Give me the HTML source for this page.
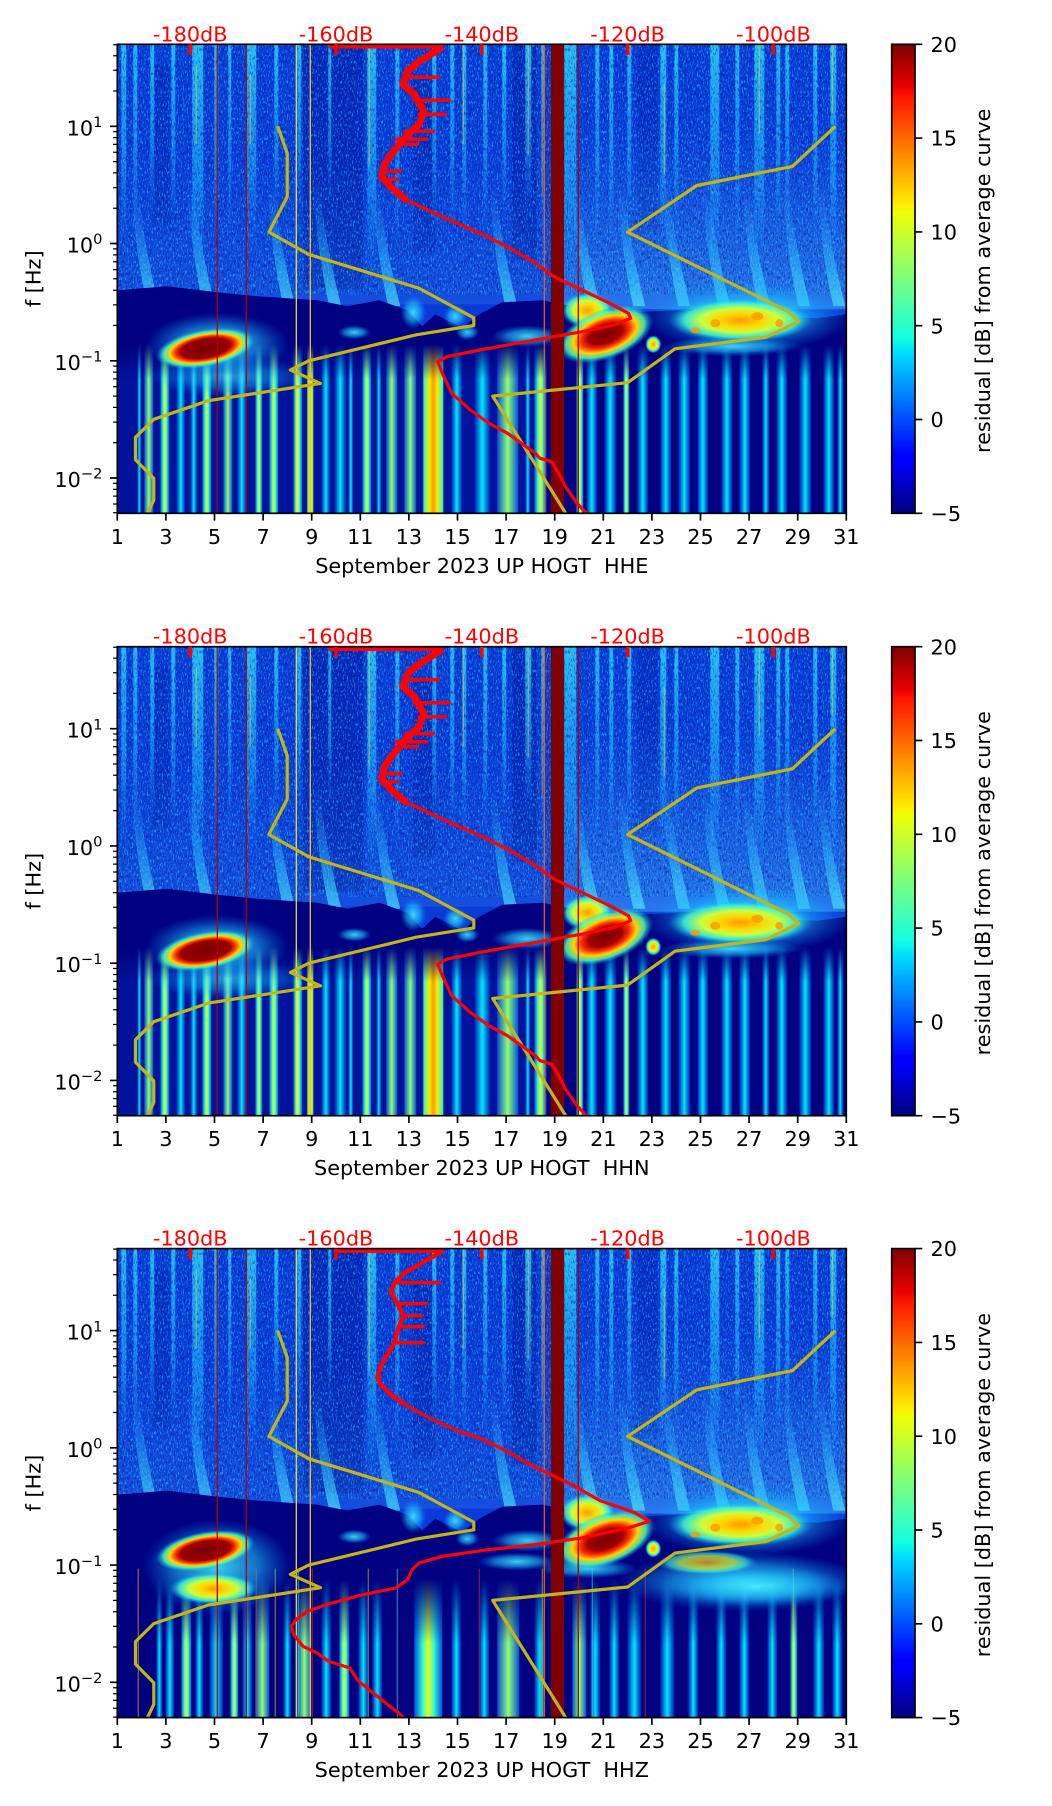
<!DOCTYPE html>
<html><head><meta charset="utf-8"><style>body{margin:0;background:#fff}svg{display:block}</style></head><body>
<svg xmlns="http://www.w3.org/2000/svg" width="1052" height="1806" viewBox="0 0 1052 1806" font-family="'DejaVu Sans','Liberation Sans',sans-serif" font-size="20.8">
<defs>
<linearGradient id="jet" x1="0" y1="1" x2="0" y2="0">
<stop offset="0" stop-color="#000080"/><stop offset=".11" stop-color="#0000ff"/><stop offset=".125" stop-color="#0000ff"/><stop offset=".34" stop-color="#00dbff"/><stop offset=".375" stop-color="#14ffe2"/><stop offset=".5" stop-color="#7bff7b"/><stop offset=".64" stop-color="#eeff08"/><stop offset=".66" stop-color="#ffec00"/><stop offset=".89" stop-color="#ff1300"/><stop offset=".91" stop-color="#e80000"/><stop offset="1" stop-color="#800000"/>
</linearGradient>
<linearGradient id="sg" x1="0" y1="0" x2="0" y2="1"><stop offset="0" stop-color="#30e0ff" stop-opacity=".8"/><stop offset=".6" stop-color="#20c0ff" stop-opacity=".5"/><stop offset="1" stop-color="#1090ff" stop-opacity="0"/></linearGradient>
<linearGradient id="lg" x1="0" y1="0" x2="0" y2="1"><stop offset="0" stop-color="#40a8ff" stop-opacity="0"/><stop offset="1" stop-color="#50c0ff" stop-opacity=".45"/></linearGradient>
<linearGradient id="cg" x1="0" y1="0" x2="0" y2="1"><stop offset="0" stop-color="#30b8ff" stop-opacity="0"/><stop offset=".5" stop-color="#30d0ff" stop-opacity=".35"/><stop offset="1" stop-color="#50f0ff" stop-opacity=".65"/></linearGradient>
<linearGradient id="gc" x1="0" y1="0" x2="1" y2="0"><stop offset="0" stop-color="#0018b0"/><stop offset=".5" stop-color="#00e8ff"/><stop offset="1" stop-color="#0018b0"/></linearGradient>
<linearGradient id="gy" x1="0" y1="0" x2="1" y2="0"><stop offset="0" stop-color="#0050e0"/><stop offset=".3" stop-color="#30ffd0"/><stop offset=".5" stop-color="#f0ff10"/><stop offset=".7" stop-color="#30ffd0"/><stop offset="1" stop-color="#0050e0"/></linearGradient>
<linearGradient id="gg" x1="0" y1="0" x2="1" y2="0"><stop offset="0" stop-color="#0050e0"/><stop offset=".5" stop-color="#90ff70"/><stop offset="1" stop-color="#0050e0"/></linearGradient>
<linearGradient id="go" x1="0" y1="0" x2="1" y2="0"><stop offset="0" stop-color="#30f0d0"/><stop offset=".3" stop-color="#f0f000"/><stop offset=".5" stop-color="#ff9800"/><stop offset=".7" stop-color="#f0f000"/><stop offset="1" stop-color="#30f0d0"/></linearGradient>
<radialGradient id="rb1"><stop offset="0" stop-color="#780000"/><stop offset=".5" stop-color="#9a0000"/><stop offset=".6" stop-color="#ff2a00"/><stop offset=".72" stop-color="#ffd400"/><stop offset=".84" stop-color="#50ffb0" stop-opacity=".85"/><stop offset="1" stop-color="#00b0ff" stop-opacity="0"/></radialGradient>
<radialGradient id="rb2"><stop offset="0" stop-color="#780000"/><stop offset=".35" stop-color="#a00000"/><stop offset=".5" stop-color="#ff2a00"/><stop offset=".66" stop-color="#ffd400"/><stop offset=".82" stop-color="#50ffb0" stop-opacity=".85"/><stop offset="1" stop-color="#00b0ff" stop-opacity="0"/></radialGradient>
<radialGradient id="yb"><stop offset="0" stop-color="#ff9a00"/><stop offset=".3" stop-color="#ffd800"/><stop offset=".55" stop-color="#c8ff40"/><stop offset=".78" stop-color="#40f8d0" stop-opacity=".85"/><stop offset="1" stop-color="#00a8ff" stop-opacity="0"/></radialGradient>
<radialGradient id="cyg"><stop offset="0" stop-color="#48f4ff" stop-opacity=".85"/><stop offset=".55" stop-color="#20c8ff" stop-opacity=".55"/><stop offset="1" stop-color="#0090ff" stop-opacity="0"/></radialGradient>
<filter id="nz" filterUnits="userSpaceOnUse" x="0" y="0" width="729" height="250" color-interpolation-filters="sRGB">
<feTurbulence type="fractalNoise" baseFrequency="0.8 0.3" numOctaves="2" seed="4"/>
<feColorMatrix type="matrix" values="0 0 0 0 0.15  0 0 0 0 0.85  0 0 0 0 1  5 0 0 0 -2.7"/>
</filter>
<filter id="nz2" filterUnits="userSpaceOnUse" x="0" y="0" width="729" height="250" color-interpolation-filters="sRGB">
<feTurbulence type="fractalNoise" baseFrequency="0.7 0.25" numOctaves="2" seed="9"/>
<feColorMatrix type="matrix" values="0 0 0 0 0  0 0 0 0 0.05  0 0 0 0 0.55  0 5 0 0 -2.7"/>
</filter>
<clipPath id="cp"><rect width="729" height="469"/></clipPath>
<linearGradient id="mf1" gradientUnits="userSpaceOnUse" x1="0" y1="300" x2="0" y2="335"><stop offset="0" stop-color="#000"/><stop offset="1" stop-color="#fff"/></linearGradient>
<mask id="m1" maskUnits="userSpaceOnUse" x="0" y="0" width="729" height="469"><rect width="729" height="469" fill="url(#mf1)"/></mask>
<linearGradient id="mf3" gradientUnits="userSpaceOnUse" x1="0" y1="330" x2="0" y2="395"><stop offset="0" stop-color="#000"/><stop offset="1" stop-color="#fff"/></linearGradient>
<mask id="m3" maskUnits="userSpaceOnUse" x="0" y="0" width="729" height="469"><rect width="729" height="469" fill="url(#mf3)"/></mask>

<g id="up">
<rect width="729" height="469" fill="#0a3ad8"/>
<g fill="#0016a0"><rect x="186" width="60" height="245" opacity=".5"/><rect x="395" width="24" height="215" opacity=".45"/><rect x="296" y="30" width="22" height="180" opacity=".35"/><rect x="520" width="20" height="190" opacity=".3"/><rect x="36" y="20" width="16" height="160" opacity=".3"/></g>
<rect y="110" width="440" height="150" fill="url(#lg)" opacity=".35"/>
<rect x="440" y="80" width="289" height="185" fill="url(#lg)"/>
<g fill="url(#sg)">
<rect x="4" width="5" height="200"/><rect x="16" width="4" height="190"/><rect x="33" width="4" height="170"/><rect x="54" width="4" height="180"/><rect x="75" width="11" height="235"/><rect x="97" width="4" height="200"/><rect x="111" width="3" height="190"/><rect x="129" width="10" height="210"/><rect x="157" width="4" height="180"/><rect x="180" width="4" height="170"/><rect x="211" width="3" height="160"/><rect x="250" width="9" height="235"/><rect x="278" width="4" height="205"/><rect x="315" width="4" height="190"/><rect x="333" width="4" height="185"/><rect x="345" width="4" height="200"/><rect x="366" width="4" height="190"/><rect x="385" width="4" height="180"/><rect x="408" width="6" height="170"/><rect x="424" width="3" height="200"/><rect x="447" width="12" height="250"/><rect x="478" width="4" height="200"/><rect x="492" width="4" height="205"/><rect x="510" width="4" height="190"/><rect x="543" width="6" height="205"/><rect x="557" width="4" height="200"/><rect x="593" width="9" height="225"/><rect x="618" width="4" height="200"/><rect x="637" width="10" height="225"/><rect x="659" width="4" height="200"/><rect x="668" width="4" height="190"/><rect x="696" width="4" height="205"/><rect x="713" width="6" height="225"/>
</g>
<rect width="729" height="250" filter="url(#nz)" opacity=".6"/>
<rect width="729" height="250" filter="url(#nz2)" opacity=".5"/>
<g fill="url(#cg)">
<path d="M14,140Q18,210 30,262L42,262Q26,200 20,140Z"/><path d="M70,140Q74,210 86,262L98,262Q82,200 76,140Z"/><path d="M150,140Q154,210 166,262L178,262Q162,200 156,140Z"/><path d="M196,140Q200,210 212,262L224,262Q208,200 202,140Z"/><path d="M255,140Q259,210 271,262L283,262Q267,200 261,140Z"/><path d="M372,140Q376,210 388,262L400,262Q384,200 378,140Z"/><path d="M455,140Q459,210 471,262L483,262Q467,200 461,140Z"/><path d="M500,140Q504,210 516,262L528,262Q512,200 506,140Z"/><path d="M545,140Q549,210 561,262L573,262Q557,200 551,140Z"/><path d="M585,140Q589,210 601,262L613,262Q597,200 591,140Z"/><path d="M625,140Q629,210 641,262L653,262Q637,200 631,140Z"/><path d="M665,140Q669,210 681,262L693,262Q677,200 671,140Z"/><path d="M700,140Q704,210 716,262L728,262Q712,200 706,140Z"/>
</g>
<g stroke-width="1.3" opacity=".45">
<path d="M252,0V120M346,0V100M715,0V70" stroke="#f0e020"/><path d="M411,0V110" stroke="#f0d020"/><path d="M425,0V150" stroke="#ff7000"/><path d="M79,20V100M133,30V100M642,0V90" stroke="#d0e040"/><path d="M547,40V130" stroke="#e0e030"/>
</g>
</g>

<polygon id="navy" fill="#000080" points="0,246 50,242 100,248 140,252 200,256 230,262 262,256 290,266 305,282 318,270 345,284 362,270 385,258 425,256 455,262 520,268 560,266 600,262 650,272 700,274 729,270 729,469 0,469"/>

<g id="mid1">
<use href="#navy"/>
<g mask="url(#m1)">
<rect x="0" y="300" width="430" height="169" fill="#0030c0" opacity=".4"/>
<rect x="20" y="300" width="4" height="169" fill="url(#gc)"/><rect x="27" y="300" width="9" height="169" fill="url(#gg)"/><rect x="43" y="300" width="9" height="169" fill="url(#gy)"/><rect x="59" y="300" width="9" height="169" fill="url(#gc)"/><rect x="73" y="300" width="7" height="169" fill="url(#gc)"/><rect x="85" y="300" width="9" height="169" fill="url(#gy)"/><rect x="106" y="300" width="9" height="169" fill="url(#gg)"/><rect x="120" y="300" width="9" height="169" fill="url(#gc)"/><rect x="138" y="300" width="7" height="169" fill="url(#gy)"/><rect x="152" y="300" width="9" height="169" fill="url(#gy)"/><rect x="176" y="300" width="9" height="169" fill="url(#gy)"/><rect x="190" y="300" width="6" height="169" fill="url(#go)"/><rect x="204" y="300" width="9" height="169" fill="url(#gc)"/><rect x="217" y="300" width="12" height="169" fill="url(#gc)"/><rect x="231" y="300" width="5" height="169" fill="url(#gc)"/><rect x="245" y="300" width="9" height="169" fill="url(#gy)"/><rect x="259" y="300" width="5" height="169" fill="url(#gc)"/><rect x="269" y="300" width="11" height="169" fill="url(#gg)"/><rect x="287" y="300" width="12" height="169" fill="url(#gg)"/><rect x="306" y="300" width="20" height="169" fill="url(#go)"/><rect x="334" y="300" width="11" height="169" fill="url(#gc)"/><rect x="357" y="300" width="16" height="169" fill="url(#gc)"/><rect x="380" y="300" width="21" height="169" fill="url(#gg)"/><rect x="408" y="300" width="5" height="169" fill="url(#gc)"/><rect x="417" y="300" width="12" height="169" fill="url(#gy)"/><rect x="459" y="300" width="7" height="169" fill="url(#gy)"/><rect x="469" y="300" width="11" height="169" fill="url(#gc)"/><rect x="487" y="300" width="12" height="169" fill="url(#gc)"/><rect x="506" y="300" width="6" height="169" fill="url(#gy)"/><rect x="520" y="300" width="11" height="169" fill="url(#gc)"/><rect x="543" y="300" width="11" height="169" fill="url(#gc)"/><rect x="561" y="300" width="12" height="169" fill="url(#gc)"/><rect x="580" y="300" width="11" height="169" fill="url(#gc)"/><rect x="604" y="300" width="11" height="169" fill="url(#gc)"/><rect x="622" y="300" width="11" height="169" fill="url(#gc)"/><rect x="645" y="300" width="7" height="169" fill="url(#gc)"/><rect x="659" y="300" width="11" height="169" fill="url(#gc)"/><rect x="682" y="300" width="12" height="169" fill="url(#gc)"/><rect x="706" y="300" width="11" height="169" fill="url(#gc)"/><rect x="720" y="300" width="6" height="169" fill="url(#gc)"/>
</g>
<ellipse cx="110" cy="332" rx="80" ry="20" fill="url(#cyg)" opacity=".7"/>
<ellipse cx="100" cy="300" rx="72" ry="32" fill="url(#cyg)"/>
<ellipse cx="88" cy="304" rx="50" ry="19" fill="url(#rb1)" transform="rotate(-10 88 304)"/>
<ellipse cx="410" cy="292" rx="36" ry="11" fill="url(#cyg)"/>
<ellipse cx="237" cy="288" rx="17" ry="7" fill="url(#cyg)"/>
<ellipse cx="350" cy="288" rx="12" ry="8" fill="url(#cyg)"/>
<ellipse cx="296" cy="268" rx="13" ry="17" fill="url(#cyg)"/>
<ellipse cx="338" cy="272" rx="12" ry="12" fill="url(#cyg)"/>
<ellipse cx="630" cy="272" rx="105" ry="36" fill="url(#cyg)"/>
<ellipse cx="615" cy="302" rx="70" ry="10" fill="url(#cyg)"/>
<ellipse cx="623" cy="276" rx="72" ry="22" fill="url(#yb)"/>
<ellipse cx="470" cy="266" rx="26" ry="18" fill="url(#yb)"/>
<ellipse cx="488" cy="290" rx="50" ry="25" fill="url(#rb2)" transform="rotate(-20 488 290)"/>
<ellipse cx="536" cy="300" rx="8" ry="9" fill="url(#yb)"/>
<g fill="#ff9a00" opacity=".8"><ellipse cx="598" cy="279" rx="5" ry="4"/><ellipse cx="640" cy="272" rx="6" ry="4"/><ellipse cx="662" cy="279" rx="4" ry="4"/><ellipse cx="578" cy="286" rx="5" ry="3"/></g>
</g>

<g id="mid3">
<use href="#navy"/>
<g mask="url(#m3)">
<rect x="39" y="290" width="6" height="179" fill="url(#gc)"/><rect x="48" y="290" width="9" height="179" fill="url(#gc)"/><rect x="64" y="290" width="10" height="179" fill="url(#gy)"/><rect x="78" y="290" width="8" height="179" fill="url(#gc)"/><rect x="92" y="290" width="14" height="179" fill="url(#gc)"/><rect x="113" y="290" width="8" height="179" fill="url(#gy)"/><rect x="125" y="290" width="10" height="179" fill="url(#gc)"/><rect x="138" y="290" width="14" height="179" fill="url(#gg)"/><rect x="166" y="290" width="8" height="179" fill="url(#gc)"/><rect x="180" y="290" width="14" height="179" fill="url(#gg)"/><rect x="204" y="290" width="10" height="179" fill="url(#gc)"/><rect x="222" y="290" width="10" height="179" fill="url(#gy)"/><rect x="241" y="290" width="10" height="179" fill="url(#gc)"/><rect x="255" y="290" width="10" height="179" fill="url(#gc)"/><rect x="297" y="290" width="28" height="179" fill="url(#gy)"/><rect x="334" y="290" width="10" height="179" fill="url(#gc)"/><rect x="362" y="290" width="10" height="179" fill="url(#gc)"/><rect x="380" y="290" width="22" height="179" fill="url(#gg)"/><rect x="417" y="290" width="11" height="179" fill="url(#gc)"/><rect x="455" y="290" width="14" height="179" fill="url(#gg)"/><rect x="473" y="290" width="10" height="179" fill="url(#gc)"/><rect x="492" y="290" width="10" height="179" fill="url(#gc)"/><rect x="510" y="290" width="14" height="179" fill="url(#gc)"/><rect x="543" y="290" width="14" height="179" fill="url(#gc)"/><rect x="571" y="290" width="10" height="179" fill="url(#gc)"/><rect x="599" y="290" width="10" height="179" fill="url(#gc)"/><rect x="622" y="290" width="10" height="179" fill="url(#gc)"/><rect x="650" y="290" width="10" height="179" fill="url(#gc)"/><rect x="673" y="290" width="7" height="179" fill="url(#gy)"/><rect x="696" y="290" width="11" height="179" fill="url(#gc)"/><rect x="715" y="290" width="10" height="179" fill="url(#gc)"/>
</g>
<g stroke-width="1.2" opacity=".5">
<path d="M21,320V469M158,320V469M251,320V469M425,320V469M676,320V469" stroke="#ffe000"/>
<path d="M139,320V469M195,320V469M362,320V469M528,320V469" stroke="#ff3000"/>
<path d="M181,320V469M280,320V469M475,320V469" stroke="#40ffe0"/>
</g>
<ellipse cx="100" cy="318" rx="75" ry="48" fill="url(#cyg)"/>
<ellipse cx="88" cy="302" rx="50" ry="19" fill="url(#rb1)" transform="rotate(-10 88 302)"/>
<ellipse cx="96" cy="340" rx="44" ry="16" fill="url(#yb)"/>
<ellipse cx="625" cy="333" rx="125" ry="30" fill="url(#cyg)"/>
<ellipse cx="640" cy="338" rx="95" ry="20" fill="url(#cyg)"/>
<ellipse cx="400" cy="313" rx="40" ry="9" fill="url(#cyg)"/>
<ellipse cx="470" cy="320" rx="50" ry="10" fill="url(#cyg)"/>
<ellipse cx="410" cy="292" rx="36" ry="11" fill="url(#cyg)"/>
<ellipse cx="237" cy="288" rx="17" ry="7" fill="url(#cyg)"/>
<ellipse cx="350" cy="290" rx="12" ry="8" fill="url(#cyg)"/>
<ellipse cx="296" cy="268" rx="13" ry="17" fill="url(#cyg)"/>
<ellipse cx="338" cy="272" rx="12" ry="12" fill="url(#cyg)"/>
<ellipse cx="630" cy="272" rx="105" ry="36" fill="url(#cyg)"/>
<ellipse cx="590" cy="314" rx="50" ry="12" fill="url(#yb)" opacity=".7"/>
<ellipse cx="623" cy="276" rx="72" ry="22" fill="url(#yb)"/>
<ellipse cx="470" cy="264" rx="28" ry="19" fill="url(#yb)"/>
<ellipse cx="488" cy="291" rx="52" ry="26" fill="url(#rb2)" transform="rotate(-20 488 291)"/>
<ellipse cx="536" cy="300" rx="8" ry="9" fill="url(#yb)"/>
<g fill="#ff9a00" opacity=".8"><ellipse cx="598" cy="279" rx="5" ry="4"/><ellipse cx="640" cy="272" rx="6" ry="4"/><ellipse cx="662" cy="279" rx="4" ry="4"/><ellipse cx="578" cy="286" rx="5" ry="3"/></g>
</g>

<g id="vl">
<path d="M100,0V469M129,0V469M461,0V469" stroke="#b00000" stroke-width="1.3"/>
<path d="M179,0V469" stroke="#e8e040" stroke-width="1.3"/>
<path d="M193,0V469" stroke="#ffc020" stroke-width="1.3"/>
<path d="M427,0V469" stroke="#ff6000" stroke-width="1.2"/>
<rect x="433.7" width="13" height="469" fill="#800000"/>
</g>

<g id="yl" fill="none" stroke="#c4b418" stroke-width="3.2" stroke-linejoin="round">
<polyline points="160.4,82 169.9,109 169.9,152.6 151.6,187.8 191.7,210.2 301.4,243.8 356.5,273.5 356.5,281.2 298.9,290.5 191.4,316.5 173.1,325.7 203.2,339.1 91.1,356.4 36.5,375 18.2,393 18.2,415.5 36.5,434.2 36.5,455.7 28.8,472"/>
<polyline points="718.1,82 675.1,122.1 579.6,141.2 510.3,187.8 670.7,267.2 681.6,276.9 648.8,292.9 557.7,304.5 510.3,338.4 375.4,351.8 450.3,472"/>
</g>

<g id="r1" fill="none" stroke="#ff0000" stroke-linejoin="round" stroke-linecap="round">
<polyline stroke-width="7" points="322.8,4 312,11 302,17 290.3,27 285.6,40 297.2,50 306.5,67 301.8,80 288,93 276.3,107 267,120 264.7,133 274,143 288,155"/>
<polyline stroke-width="3.2" points="288,155 325,172.4 362.3,188.7 390.2,202.4 418.1,218.7 436.7,232.4 464.7,245.7 492.5,259 511.1,269 513.4,274 497.1,280.7 464.7,287.4 418.1,295.7 362.3,305.7 329.7,312.4 320.5,317.4 325.1,329 334.4,349 353,365.7 371.7,379 390.2,389 404.2,399 418.1,409 422.7,414 434.4,417.4 441.4,429 448.3,442.4 459.7,459 469.2,469 472,472"/>
<path stroke-width="3.5" d="M212.7,2.5H324M286,33H321M297,56H332M302,70H328M288,87H316M279,95H309M279,100H300M265,127H283M265,135H280"/>
</g>

<g id="r3" fill="none" stroke="#ff0000" stroke-linejoin="round" stroke-linecap="round">
<polyline stroke-width="4.5" points="324.4,3.1 307.5,12.7 287.3,24.3 277.2,34 273.7,43.6 280.5,55.2 285.9,66.8 280.5,82.2 277.2,93.8 270.4,105.4 263.7,117 260.3,128.6 263.7,136.3 273.7,146 287.3,155.6"/>
<polyline stroke-width="3.2" points="287.3,155.6 307.5,167.2 341.2,182.6 364.7,190.3 388.4,202 415.4,217.4 435.7,227 455.7,236.7 482.7,252 516.7,263.7 532,272.7 511.1,279.3 464.7,289.3 418.1,296 371.7,301 325.1,307.7 301.9,314.3 294.9,321 290.3,331 278.7,339.3 246.1,346 208.9,356 190.3,362.7 178.7,371 174,377.7 176.4,386 185.7,397.7 199.7,404.3 211.2,412.7 232.2,419.3 241.4,432.7 260,447.7 283.3,466 287,471"/>
<path stroke-width="3.5" d="M219.7,2.5H324M277,34H322M281,55H309M286,67H304M281,78H306M277,94H306"/>
</g>

<g id="ax">
<rect width="729" height="469" fill="none" stroke="#000" stroke-width="1.67"/>
<path stroke="#000" stroke-width="1.67" d="M0,469v7.3M48.6,469v7.3M97.2,469v7.3M145.8,469v7.3M194.4,469v7.3M243,469v7.3M291.6,469v7.3M340.2,469v7.3M388.8,469v7.3M437.4,469v7.3M486,469v7.3M534.6,469v7.3M583.2,469v7.3M631.8,469v7.3M680.4,469v7.3M729,469v7.3M0,82h-7.3M0,199.2h-7.3M0,316.5h-7.3M0,433.7h-7.3"/>
<path stroke="#000" stroke-width="1.25" d="M0,0.5h-4.2M0,11.4h-4.2M0,26h-4.2M0,46.7h-4.2M0,87.3h-4.2M0,93.3h-4.2M0,100.1h-4.2M0,108h-4.2M0,117.3h-4.2M0,128.6h-4.2M0,143.3h-4.2M0,163.9h-4.2M0,204.6h-4.2M0,210.6h-4.2M0,217.4h-4.2M0,225.3h-4.2M0,234.5h-4.2M0,245.9h-4.2M0,260.6h-4.2M0,281.2h-4.2M0,321.8h-4.2M0,327.8h-4.2M0,334.6h-4.2M0,342.5h-4.2M0,351.8h-4.2M0,363.1h-4.2M0,377.8h-4.2M0,398.4h-4.2M0,439.1h-4.2M0,445.1h-4.2M0,451.8h-4.2M0,459.7h-4.2M0,468.5h-4.2"/>
<path stroke="#f00" stroke-width="3.6" d="M72.9,0v10.5M218.7,0v10.5M364.5,0v10.5M510.3,0v10.5M656.1,0v10.5"/>
<g fill="#f00" text-anchor="middle">
<text x="72.9" y="-3">-180dB</text><text x="218.7" y="-3">-160dB</text><text x="364.5" y="-3">-140dB</text><text x="510.3" y="-3">-120dB</text><text x="656.1" y="-3">-100dB</text>
</g>
<g text-anchor="middle">
<text x="0" y="499.5">1</text><text x="48.6" y="499.5">3</text><text x="97.2" y="499.5">5</text><text x="145.8" y="499.5">7</text><text x="194.4" y="499.5">9</text><text x="243" y="499.5">11</text><text x="291.6" y="499.5">13</text><text x="340.2" y="499.5">15</text><text x="388.8" y="499.5">17</text><text x="437.4" y="499.5">19</text><text x="486" y="499.5">21</text><text x="534.6" y="499.5">23</text><text x="583.2" y="499.5">25</text><text x="631.8" y="499.5">27</text><text x="680.4" y="499.5">29</text><text x="729" y="499.5">31</text>
</g>
<g text-anchor="end">
<text x="-14.9" y="91">10<tspan font-size="14.6" dy="-8.3">1</tspan></text>
<text x="-14.9" y="208.2">10<tspan font-size="14.6" dy="-8.3">0</tspan></text>
<text x="-14.9" y="325.5">10<tspan font-size="14.6" dy="-8.3">−1</tspan></text>
<text x="-14.9" y="442.7">10<tspan font-size="14.6" dy="-8.3">−2</tspan></text>
</g>
</g>

<g id="cbar">
<rect x="891.7" y="0" width="23.3" height="469" fill="url(#jet)" stroke="#000" stroke-width="1.67"/>
<path stroke="#000" stroke-width="1.67" d="M915,0h7.3M915,93.8h7.3M915,187.6h7.3M915,281.4h7.3M915,375.2h7.3M915,469h7.3"/>
<text x="930.5" y="7.6">20</text><text x="930.5" y="101.4">15</text><text x="930.5" y="195.2">10</text><text x="930.5" y="289">5</text><text x="930.5" y="382.8">0</text><text x="930.5" y="476.6">−5</text>
<text transform="translate(990,236.5) rotate(-90)" text-anchor="middle">residual [dB] from average curve</text>
<text transform="translate(40.5,234.5) rotate(-90)" text-anchor="middle">f [Hz]</text>
</g>
</defs>

<rect width="1052" height="1806" fill="#fff"/>

<g transform="translate(0,44.3)">
<g transform="translate(117.3,0)">
<g clip-path="url(#cp)"><use href="#up"/><use href="#mid1"/><use href="#vl"/><use href="#yl"/><use href="#r1"/></g>
<use href="#ax"/>
<text x="364.5" y="528.5" text-anchor="middle">September 2023 UP HOGT&#160; HHE</text>
</g>
<use href="#cbar"/>
</g>

<g transform="translate(0,646.7)">
<g transform="translate(117.3,0)">
<g clip-path="url(#cp)"><use href="#up"/><use href="#mid1"/><use href="#vl"/><use href="#yl"/><use href="#r1"/></g>
<use href="#ax"/>
<text x="364.5" y="528.5" text-anchor="middle">September 2023 UP HOGT&#160; HHN</text>
</g>
<use href="#cbar"/>
</g>

<g transform="translate(0,1248.6)">
<g transform="translate(117.3,0)">
<g clip-path="url(#cp)"><use href="#up"/><use href="#mid3"/><use href="#vl"/><use href="#yl"/><use href="#r3"/></g>
<use href="#ax"/>
<text x="364.5" y="528.5" text-anchor="middle">September 2023 UP HOGT&#160; HHZ</text>
</g>
<use href="#cbar"/>
</g>
</svg>
</body></html>
